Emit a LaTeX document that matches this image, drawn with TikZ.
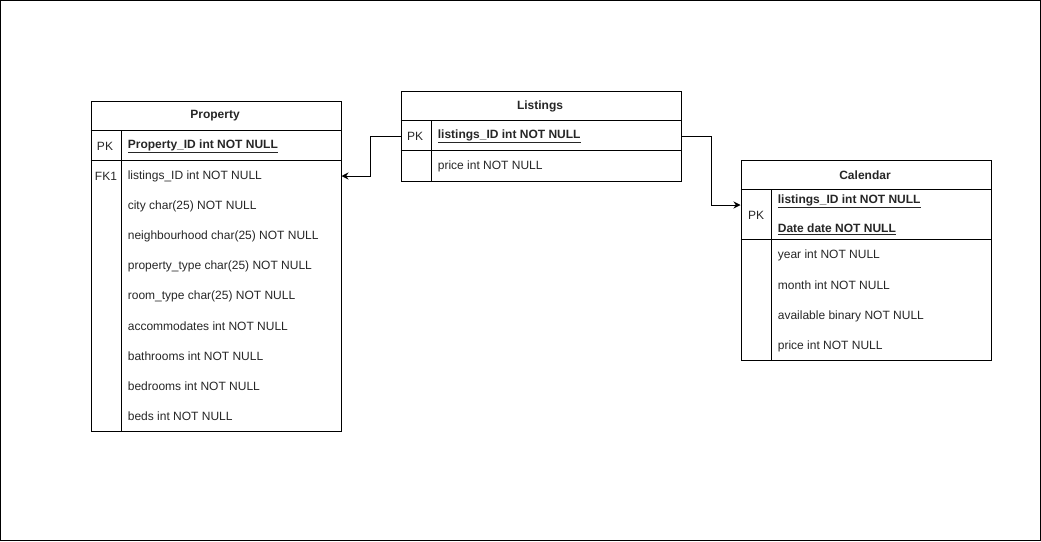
\documentclass[tikz,border=0pt]{standalone}
\usepackage{fontspec}
\setmainfont{Liberation Sans}
\usetikzlibrary{arrows.meta}

\begin{document}
\begin{tikzpicture}[x=1pt,y=-1pt,line width=1pt,
        every node/.style={font=\fontsize{12}{14}\selectfont, text=black!85, yshift=-1pt},
        field/.style={anchor=west},
        tbl/.style={draw, anchor=north west, inner sep=0pt, yshift=1pt}]
        \useasboundingbox (0,0) rectangle (1041,541);

        % the frame
        \draw (0.5,0.5) rectangle (1040.5,540.5);

        % draw the tables
        \node[tbl, minimum width=250pt, minimum height=330pt] (property) at (90.5,100.5) {};
        \node[tbl, minimum width=280pt, minimum height=90pt] (listings) at (400.5,90.5) {};
        \node[tbl, minimum width=250pt, minimum height=200pt] (calendar) at (740.5,159.5) {};

        % the rules inside the tables
        \draw (90.5,130.5) -- (340.5,130.5);
        \draw (90.5,160.5) -- (340.5,160.5);
        \draw (121.5,130.5) -- (121.5,430.5);
        \draw (400.5,120.5) -- (680.5,120.5);
        \draw (400.5,150.5) -- (680.5,150.5);
        \draw (431.5,120.5) -- (431.5,180.5);
        \draw (740.5,189.5) -- (990.5,189.5);
        \draw (740.5,239.5) -- (990.5,239.5);
        \draw (771.5,189.5) -- (771.5,359.5);

        % the texts of Property
        \node (p-title) at (215,115) {\bfseries Property};
        \node (p-pk) at (105,145) {PK};
        \node[field] (p-id) at (124,145) {\bfseries\underline{Property\_ID int NOT NULL}};
        \node (p-fk) at (106,175) {FK1};
        \node[field] (p-listings) at (124,175) {listings\_ID int NOT NULL};
        \node[field] (p-city) at (124,205) {city char(25) NOT NULL};
        \node[field] (p-hood) at (124,235) {neighbourhood char(25) NOT NULL};
        \node[field] (p-ptype) at (124,265) {property\_type char(25) NOT NULL};
        \node[field] (p-rtype) at (124,295) {room\_type char(25) NOT NULL};
        \node[field] (p-acc) at (124,325) {accommodates int NOT NULL};
        \node[field] (p-bath) at (124,355) {bathrooms int NOT NULL};
        \node[field] (p-bed) at (124,385) {bedrooms int NOT NULL};
        \node[field] (p-beds) at (124,415) {beds int NOT NULL};

        % the texts of Listings
        \node (l-title) at (540,105) {\bfseries Listings};
        \node (l-pk) at (415,135) {PK};
        \node[field] (l-id) at (434,135) {\bfseries\underline{listings\_ID int NOT NULL}};
        \node[field] (l-price) at (434,165) {price int NOT NULL};

        % the texts of Calendar
        \node (c-title) at (865,174) {\bfseries Calendar};
        \node (c-pk) at (756,214) {PK};
        \node[field] (c-id) at (774,200) {\bfseries\underline{listings\_ID int NOT NULL}};
        \node[field] (c-date) at (774,228) {\bfseries\underline{Date date NOT NULL}};
        \node[field] (c-year) at (774,254) {year int NOT NULL};
        \node[field] (c-month) at (774,284) {month int NOT NULL};
        \node[field] (c-avail) at (774,315) {available binary NOT NULL};
        \node[field] (c-price) at (774,345) {price int NOT NULL};

        % draw the arrows
        \coordinate (c-in) at (740.5,204);
        \draw[-{Stealth[length=7pt,width=7pt]}] (listings.west |- l-pk) -- ++(-30,0) |- (property.east |- p-fk);
        \draw[-{Stealth[length=7pt,width=7pt]}] (listings.east |- l-pk) -- ++(30,0) |- (c-in);

    \end{tikzpicture}
\end{document}
